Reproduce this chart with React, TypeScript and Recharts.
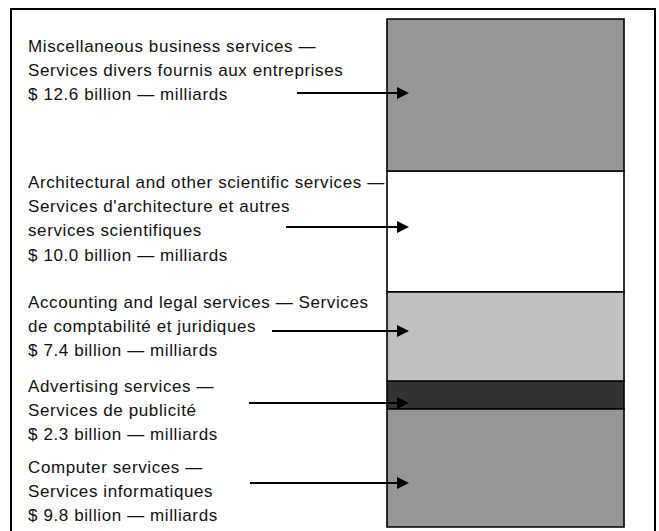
import { BarChart, Bar, XAxis, YAxis, LabelList } from "recharts";

// bottom to top, as stacked
const segmentKeys = ["computer", "advertising", "accounting", "architectural", "misc"];
const segmentValues = [9.8, 2.3, 7.4, 10.0, 12.6];
const segmentLines = [
  ["Computer services —", "Services informatiques", "$ 9.8 billion — milliards"],
  ["Advertising services —", "Services de publicité", "$ 2.3 billion — milliards"],
  ["Accounting and legal services — Services", "de comptabilité et juridiques", "$ 7.4 billion — milliards"],
  [
    "Architectural and other scientific services —",
    "Services d'architecture et autres",
    "services scientifiques",
    "$ 10.0 billion — milliards",
  ],
  [
    "Miscellaneous business services —",
    "Services divers fournis aux entreprises",
    "$ 12.6 billion — milliards",
  ],
];

const fills = ["#969696", "#333333", "#c0c0c0", "#ffffff", "#969696"];

// where each annotation sits (first baseline, arrow tail and arrow height)
const labelLayout = [
  { textY: 473, arrowX: 250, arrowY: 483 },
  { textY: 392, arrowX: 249, arrowY: 403 },
  { textY: 308, arrowX: 272, arrowY: 331 },
  { textY: 188, arrowX: 286, arrowY: 227 },
  { textY: 52, arrowX: 297, arrowY: 93 },
];

const total = segmentValues.reduce((a, b) => a + b, 0);

const row: Record<string, number | string> = { name: "services" };
segmentKeys.forEach((k, i) => {
  row[k] = segmentValues[i];
});
const data = [row];

if (typeof document !== "undefined") {
  document.body.style.margin = "0";
  document.body.style.overflow = "hidden";
}

const LINE_GAP = 24.2;

function Annotation({ index, barX }: { index: number; barX: number }) {
  const lines = segmentLines[index];
  const lay = labelLayout[index];
  const tip = barX + 22;
  const base = tip - 12;
  return (
    <g>
      {lines.map((t, i) => (
        <text
          key={i}
          x={28}
          y={lay.textY + i * LINE_GAP}
          fontFamily="'Liberation Sans', Arial, sans-serif"
          fontSize={17}
          letterSpacing={0.6}
          fill="#111"
        >
          {t}
        </text>
      ))}
      <line x1={lay.arrowX} y1={lay.arrowY} x2={base} y2={lay.arrowY} stroke="#000" strokeWidth={1.8} />
      <polygon
        points={`${base},${lay.arrowY - 6} ${tip},${lay.arrowY} ${base},${lay.arrowY + 6}`}
        fill="#000"
      />
    </g>
  );
}

export default function App() {
  return (
    <div style={{ position: "relative", width: 659, height: 531, background: "#fff" }}>
      <div
        style={{
          position: "absolute",
          left: 10,
          top: 8,
          width: 646,
          height: 523,
          border: "2px solid #000",
          borderBottom: "none",
          boxSizing: "border-box",
        }}
      />
      <div style={{ position: "absolute", left: 0, top: 0 }}>
        <BarChart
          width={659}
          height={531}
          data={data}
          margin={{ top: 19, right: 35, bottom: 4, left: 387 }}
          barCategoryGap={0}
        >
          <XAxis dataKey="name" hide />
          <YAxis type="number" domain={[0, total]} hide />
          {segmentKeys.map((k, i) => (
            <Bar
              key={k}
              dataKey={k}
              stackId="a"
              fill={fills[i]}
              stroke="#000"
              strokeWidth={1.6}
              isAnimationActive={false}
            >
              <LabelList
                dataKey={k}
                content={(p: any) => <Annotation index={i} barX={Number(p.x)} />}
              />
            </Bar>
          ))}
        </BarChart>
      </div>
    </div>
  );
}
